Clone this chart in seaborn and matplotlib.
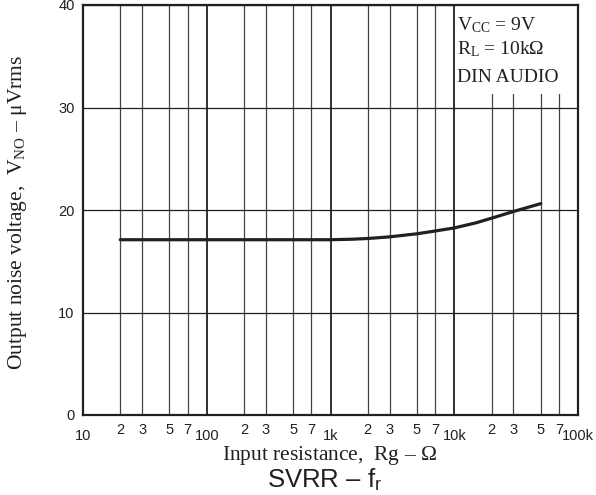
import matplotlib
matplotlib.use("Agg")
import matplotlib.pyplot as plt
import seaborn as sns
import pandas as pd
from matplotlib.patches import Rectangle
from matplotlib.ticker import FixedLocator

# ---- data ----
rg_ohm = [20, 50, 100, 200, 500, 1000, 1500, 2000, 3000, 5000, 7000, 10000, 15000, 20000, 30000, 50000]
vno_uv = [17.1, 17.1, 17.1, 17.1, 17.1, 17.1, 17.15, 17.22, 17.38, 17.68, 17.95, 18.25, 18.75, 19.2, 19.85, 20.62]
y_ticks = [0, 10, 20, 30, 40]
x_major = [10, 100, 1000, 10000, 100000]
x_major_labels = ["10", "100", "1k", "10k", "100k"]
minor_mult = [2, 3, 5, 7]
cond_lines = [r"V$_{\mathrm{CC}}$ = 9V", r"R$_{\mathrm{L}}$ = 10k$\Omega$", "DIN AUDIO"]
cond_y = [37.55, 35.2, 32.5]

sns.set_style("white")
plt.rcParams["font.family"] = ["Liberation Sans", "DejaVu Sans"]
plt.rcParams["mathtext.fontset"] = "custom"
plt.rcParams["mathtext.rm"] = "Liberation Serif"
plt.rcParams["mathtext.it"] = "Liberation Serif:italic"
plt.rcParams["mathtext.sf"] = "Liberation Sans"

df = pd.DataFrame({"Rg": rg_ohm, "VNO": vno_uv})

fig = plt.figure(figsize=(5.96, 4.95), dpi=100)
ax = fig.add_axes([83/596, 1-415/495, (578-83)/596, (415-5)/495])

sns.lineplot(data=df, x="Rg", y="VNO", ax=ax, color="#231f20", lw=2.3, zorder=3)
ax.set_xscale("log")
ax.set_xlim(10, 100000)
ax.set_ylim(0, 40)

minor_pos = [m * d for d in x_major[:-1] for m in minor_mult]
minor_lab = [str(m) for d in x_major[:-1] for m in minor_mult]
ax.xaxis.set_major_locator(FixedLocator(x_major))
ax.xaxis.set_minor_locator(FixedLocator(minor_pos))
ax.set_xticklabels(x_major_labels)
ax.set_xticks(minor_pos, minor=True)
ax.set_xticklabels(minor_lab, minor=True)
ax.set_yticks(y_ticks)
ax.set_yticklabels([str(v) for v in y_ticks])

ax.tick_params(axis="x", which="major", length=0, pad=10, labelsize=10.5, colors="#231f20")
ax.tick_params(axis="x", which="minor", length=0, pad=6, labelsize=10.5, colors="#231f20")
ax.tick_params(axis="y", length=0, pad=6, labelsize=10.5, colors="#231f20")

ax.set_axisbelow(True)
ax.grid(True, which="major", axis="x", color="#231f20", lw=1.3)
ax.grid(True, which="minor", axis="x", color="#444444", lw=0.9)
ax.grid(True, which="major", axis="y", color="#231f20", lw=0.9)

for s in ax.spines.values():
    s.set_color("#231f20")
    s.set_linewidth(1.6)

# conditions box
ax.add_patch(Rectangle((10300, 31.3), 100000 - 10300, 40 - 31.3,
                       facecolor="white", edgecolor="none", zorder=1.5))
for t, yv in zip(cond_lines, cond_y):
    ax.text(10570, yv, t, fontsize=14, family="Liberation Serif",
            va="baseline", ha="left", color="#231f20", zorder=4)

ax.set_xlabel("")
ax.set_ylabel("")
fig.text(330/596, 1-460/495, r"Input resistance,  Rg – $\Omega$", fontsize=15.5,
         family="Liberation Serif", color="#231f20", ha="center", va="baseline")
fig.text(18/596, 1-212/495, r"Output noise voltage,  V$_{\mathrm{NO}}$ – μVrms", fontsize=15.5,
         family="Liberation Serif", color="#231f20", ha="center", va="center", rotation=90)

fig.text(325/596, 1-487/495, r"SVRR – f$_{\mathsf{r}}$", fontsize=18.5,
         ha="center", va="baseline", color="#231f20")

fig.savefig("out.png", dpi=100)
